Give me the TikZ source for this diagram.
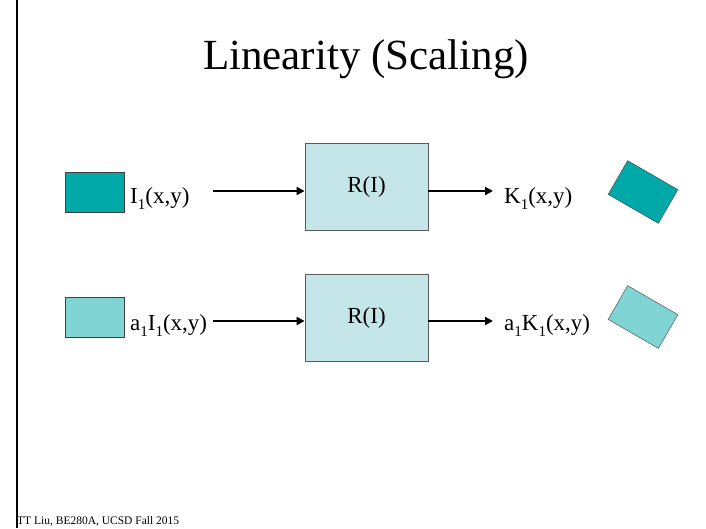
\documentclass[tikz,border=0pt]{standalone}
\usepackage{fontspec}
\setmainfont{Liberation Serif}
\usetikzlibrary{positioning,arrows.meta}

\definecolor{darkteal}{HTML}{00A8A8}
\definecolor{lightteal}{HTML}{80D4D4}
\definecolor{sysfill}{HTML}{C5E6E9}
\newcommand{\lowsub}[1]{\raisebox{-0.28em}{\fontsize{15}{15}\selectfont #1}}

\begin{document}
\begin{tikzpicture}[x=1pt,y=-1pt,
        sig/.style={draw=black!75,minimum width=59pt,minimum height=40pt,inner sep=0pt},
        sysbox/.style={draw=black!65,line width=0.8pt,fill=sysfill,minimum width=123pt,minimum height=87pt,
            inner sep=0pt,font=\fontsize{23}{26}\selectfont},
        lbl/.style={inner sep=0pt,anchor=base west,font=\fontsize{23}{28}\selectfont},
        flow/.style={line width=2.6pt,-{Triangle[length=8pt,width=8pt]}}]
     \useasboundingbox (0,0) rectangle (706,528);
     \draw[line width=2.2pt] (17,0) -- (17,528);

     \node[anchor=base,font=\fontsize{43}{50}\selectfont] (title) at (366,69) {Linearity (Scaling)};

     % first row
     \node[sig,fill=darkteal] (in1) at (94.5,192) {};
     \node[lbl] (inlbl1) at (130,203) {I\lowsub{1}(x,y)};
     \node[sysbox] (sys1) at (366.5,187) {R(I)};
     \coordinate (src1) at (213,191);
     \coordinate (dst1) at (493,191);
     \draw[flow] (src1) -- (src1 -| sys1.west);
     \draw[flow] (sys1.east |- dst1) -- (dst1);
     \node[lbl] (outlbl1) at (504,203) {K\lowsub{1}(x,y)};
     \node[sig,fill=darkteal,minimum width=58pt,minimum height=39pt,rotate=-30] (out1) at (643,192) {};

     % second row
     \node[sig,fill=lightteal] (in2) at (94.5,317.5) {};
     \node[lbl] (inlbl2) at (130,330) {a\lowsub{1}I\lowsub{1}(x,y)};
     \node[sysbox] (sys2) at (366.5,317.5) {R(I)};
     \coordinate (src2) at (213,321);
     \coordinate (dst2) at (493,321);
     \draw[flow] (src2) -- (src2 -| sys2.west);
     \draw[flow] (sys2.east |- dst2) -- (dst2);
     \node[lbl] (outlbl2) at (504,330) {a\lowsub{1}K\lowsub{1}(x,y)};
     \node[sig,fill=lightteal,minimum width=58pt,minimum height=39pt,rotate=-30] (out2) at (643,317) {};

     \node[anchor=base west,inner sep=0pt,font=\fontsize{11.5}{13}\selectfont] (foot) at (17,524)
        {TT Liu, BE280A, UCSD Fall 2015};
\end{tikzpicture}
\end{document}
